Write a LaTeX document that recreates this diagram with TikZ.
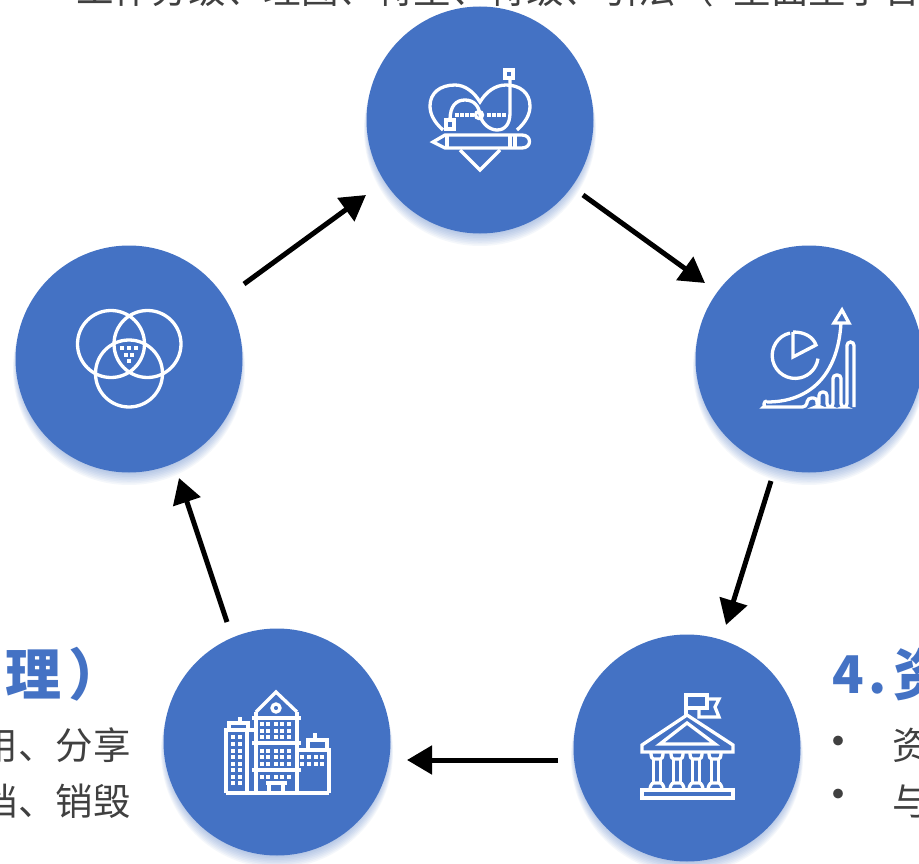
\documentclass[tikz,border=0pt]{standalone}
\usepackage{fontspec}
\newfontfamily\cjk{Noto Sans CJK SC}
\usetikzlibrary{arrows.meta}
\usetikzlibrary{backgrounds}
\definecolor{diskblue}{HTML}{4472C4}
\definecolor{bodygrey}{HTML}{404040}
\tikzset{
    x=1pt,y=-1pt,
    disk/.style={circle,fill=diskblue,draw=none,inner sep=0pt,minimum size=227pt},
    cycarrow/.style={line width=5pt,-{Triangle[length=25pt,width=28pt]}},
    icon/.style={draw=white,line width=3.3pt,line join=miter},
    pane/.style={fill=white,draw=none},
    headtext/.style={font=\cjk\bfseries\fontsize{56}{56}\selectfont,text=diskblue,inner sep=0pt},
    numtext/.style={font=\cjk\bfseries\fontsize{52}{52}\selectfont,text=diskblue,inner sep=0pt},
    bodytext/.style={font=\cjk\fontsize{37.5}{37.5}\selectfont,text=bodygrey,inner sep=0pt},
}
\begin{document}
\begin{tikzpicture}
    \useasboundingbox (0,0) rectangle (919,864);
    \clip (0,0) rectangle (919,864);

    % cut text
    \node (toptext) [bodytext,anchor=base west] at (76,4) {工作分级、理图、特里、特级、引法（\hspace{20pt}里面里于合};
    \node (headleft) [headtext,anchor=base west] at (5,695) {理};
    \node (parenleft) [headtext,anchor=base west] at (68,695) {）};
    \node (bodyleft1) [bodytext,anchor=base east] at (131,759) {用、分享};
    \node (bodyleft2) [bodytext,anchor=base east] at (131,815) {档、销毁};
    \node (headfour) [numtext,anchor=base west] at (832,693) {4};
    \node (headdot) [numtext,anchor=base west] at (868,693) {.};
    \node (headright) [headtext,anchor=base west] at (893,695) {资};
    \node (dotright1) [font=\cjk\fontsize{46}{46}\selectfont,text=bodygrey,inner sep=0pt] at (838,747) {•};
    \node (bodyright1) [bodytext,anchor=base west] at (892,759) {资};
    \node (dotright2) [font=\cjk\fontsize{46}{46}\selectfont,text=bodygrey,inner sep=0pt] at (838,800) {•};
    \node (bodyright2) [bodytext,anchor=base west] at (892,815) {与};

    % disks
    \node (design) at (480,120) [disk] {};
    \node (chart) at (809,359) [disk] {};
    \node (bank) at (687,748) [disk] {};
    \node (city) at (277,742) [disk] {};
    \node (venn) at (129,359) [disk] {};

    \begin{scope}[on background layer]
        \fill[white] (0,0) rectangle (919,864);
        \foreach \dname in {design,chart,bank,city,venn} {
            \foreach \k in {1,...,10} {
                \pgfmathsetmacro{\rad}{110+0.6*\k}
                \fill [diskblue,opacity=0.055] ([yshift=-\k pt]\dname.center) circle (\rad pt);
            }
        }
    \end{scope}

    \coordinate (a1) at (583,195);
    \coordinate (a2) at (705,283);
    \coordinate (b1) at (771,481);
    \coordinate (b2) at (726,625);
    \coordinate (c1) at (558,760);
    \coordinate (c2) at (407,760);
    \coordinate (d1) at (227,622);
    \coordinate (d2) at (179,478);
    \coordinate (e1) at (244,284);
    \coordinate (e2) at (366,195);
    \draw [cycarrow] (a1) to (a2);
    \draw [cycarrow] (b1) to (b2);
    \draw [cycarrow] (c1) to (c2);
    \draw [cycarrow] (d1) to (d2);
    \draw [cycarrow] (e1) to (e2);

    % heart and pencil
    \begin{scope}[shift={(400,40)},icon]
        \draw (43,90) .. controls (34,82) and (30,74) .. (30,66) .. controls (30,53) and (40,45) .. (55,45) .. controls (65,45) and (74,52) .. (80,62) .. controls (86,52) and (95,45) .. (106,45) .. controls (120,45) and (130,53) .. (130,66) .. controls (130,74) and (126,82) .. (117,90);
        \draw (60,110) -- (80,130) -- (100,110);
        \draw (33,102) -- (45,95) -- (122,95) .. controls (132,95) and (132,108) .. (122,108) -- (45,108) -- cycle;
        \draw (47,95) -- (47,108) (110,95) -- (110,108) (115,95) -- (115,108);
        \draw (50,80) .. controls (50,66) and (56,60) .. (65,60) .. controls (74,60) and (79,66) .. (80,75) .. controls (82,84) and (90,90) .. (97,90) .. controls (105,90) and (110,84) .. (110,73) -- (110,38);
        \draw (46,80) rectangle (54,89);
        \draw (105,30) rectangle (113,38);
        \draw (79,75) circle (3.5pt);
        \foreach \px in {57,62,67,72,89,94,99,104} {
            \fill [pane] (\px-1.6,73.4) rectangle (\px+1.6,76.6);
        }
    \end{scope}

    % pie and growth
    \begin{scope}[shift={(740,290)},icon]
        \draw (50,43) arc (103:352:23pt);
        \draw (53,42) -- (53,67) -- (76,55) .. controls (73,47) and (65,42) .. (53,42);
        \draw (27,112) .. controls (70,112) and (98,85) .. (101,33);
        \draw (94,33) -- (102,20) -- (109,33) -- cycle;
        \draw [rounded corners=3.5pt] (27,111) arc (90:270:3pt) -- (66,117) -- (68,108) -- (77,108) -- (77,117) -- (79,117) -- (79,102) -- (87,102) -- (87,117) -- (93,117) -- (93,85) -- (101,85) -- (101,117) -- (107,117) -- (107,52) -- (114,52) -- (114,117);
    \end{scope}

    % three rings
    \begin{scope}[shift={(60,290)},icon]
        \draw (51,54) circle (33.5pt);
        \draw (87.5,54) circle (33.5pt);
        \draw (69,83.5) circle (33.5pt);
        \foreach \px/\py in {62/58,69/58,76/58,66/65,72/65,69/71} {
            \fill [pane] (\px-1.7,\py-1.7) rectangle (\px+1.7,\py+1.7);
        }
    \end{scope}

    % buildings
    \begin{scope}[shift={(210,680)},icon]
        \draw (46,32) -- (46,113) (87,32) -- (87,113);
        \draw (46,32) -- (66,12) -- (87,32);
        \draw (66,28) circle (4pt);
        \draw (42,38) -- (91,38) (42,63) -- (91,63) (42,90) -- (91,90);
        \draw (16,113) -- (119,113);
        \draw (16,113) -- (16,50) -- (46,50);
        \draw (19,50) -- (19,43) -- (38,43) -- (38,50);
        \draw (30,43) -- (30,37);
        \draw (37,50) -- (37,113);
        \draw (87,70) -- (119,70) -- (119,113);
        \draw (98,70) -- (98,60) -- (117,60) -- (117,70);
        \draw (105,60) -- (105,53);
        \draw (56,103) -- (77,103) (59,103) -- (59,113) (73,103) -- (73,113);
        \foreach \wy in {44,51,57,71,77,84} {
            \foreach \wx in {52,58,66,72,79} {
                \fill [pane] (\wx-1.7,\wy-1.7) rectangle (\wx+1.7,\wy+1.7);
            }
        }
        \foreach \wx in {52,58,66,72,79} {
            \fill [pane] (\wx-1.7,95.3) rectangle (\wx+1.7,98.7);
        }
        \foreach \wy in {57,64,71,77,84,90,97,103} {
            \foreach \wx in {23,30} {
                \fill [pane] (\wx-1.7,\wy-1.7) rectangle (\wx+1.7,\wy+1.7);
            }
        }
        \foreach \wy in {77,84} {
            \foreach \wx in {92,99,106,112} {
                \fill [pane] (\wx-1.7,\wy-1.7) rectangle (\wx+1.7,\wy+1.7);
            }
        }
    \end{scope}

    % bank
    \begin{scope}[shift={(625,685)},icon]
        \draw (17,60) -- (62,30) -- (108,60) -- (108,67) -- (17,67) -- cycle;
        \draw (35,59) -- (62,38) -- (90,59) -- cycle;
        \draw (61,30) -- (61,10) -- (82,10) -- (82,23) -- (61,23);
        \draw (82,14) -- (94,14) -- (90,22) -- (94,32) -- (74,32) -- (74,23);
        \draw (17,105) rectangle (108,113);
        \foreach \cx in {32,52,71,90} {
            \draw (\cx-3.5,74) -- (\cx-3.5,98) (\cx+3.5,74) -- (\cx+3.5,98);
            \draw (\cx-6,68) .. controls (\cx-6,72) and (\cx-5,74) .. (\cx-3.5,74) -- (\cx+3.5,74) .. controls (\cx+5,74) and (\cx+6,72) .. (\cx+6,68);
            \draw (\cx-7,105) .. controls (\cx-7,101) and (\cx-5,98) .. (\cx-3.5,98) -- (\cx+3.5,98) .. controls (\cx+5,98) and (\cx+7,101) .. (\cx+7,105);
        }
    \end{scope}
\end{tikzpicture}
\end{document}
